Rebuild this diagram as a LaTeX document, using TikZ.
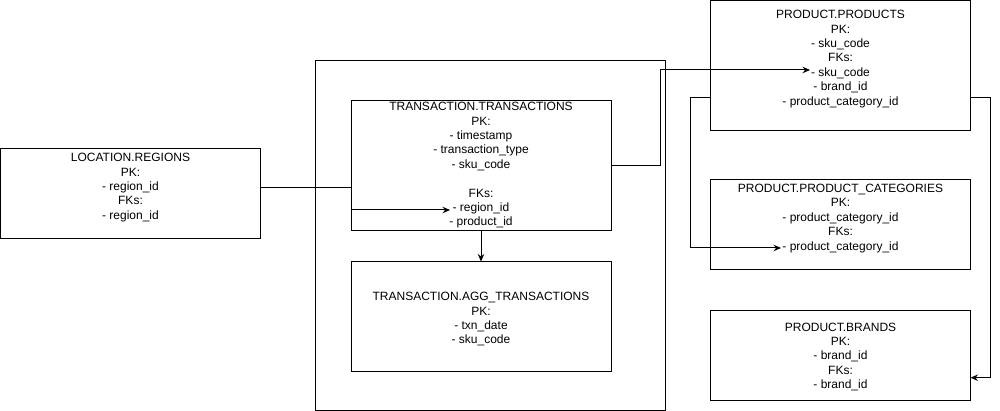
\documentclass[tikz,border=0pt]{standalone}
\usepackage{fontspec}
\setmainfont{Liberation Sans}
\usetikzlibrary{arrows.meta}
\begin{document}
\begin{tikzpicture}[x=1pt,y=-1pt,
  box/.style={draw,line width=1pt,inner sep=0pt,outer sep=0pt,fill=none},
  txt/.style={font=\fontsize{12pt}{14.4pt}\selectfont,align=center,inner sep=0pt},
  conn/.style={line width=1pt},
  arr/.style={line width=1pt,-{Stealth[length=7.5pt,width=6.5pt,inset=2.5pt]}}]
\useasboundingbox (0,0) rectangle (1000,411);
% boxes
\node[box,minimum width=350pt,minimum height=349.5pt] (outer) at (490.5,235.25) {};
\node[box,minimum width=260pt,minimum height=90pt] (reg) at (130.5,194) {};
\node[box,minimum width=260pt,minimum height=130pt] (trans) at (481,165.5) {};
\node[box,minimum width=260pt,minimum height=110pt] (agg) at (481,316.5) {};
\node[box,minimum width=260pt,minimum height=130pt] (prod) at (840.5,65.5) {};
\node[box,minimum width=260pt,minimum height=90pt] (cat) at (840.5,225) {};
\node[box,minimum width=260pt,minimum height=90pt] (brand) at (840.5,355) {};
% texts
\node[txt] (treg) at (130.5,187.5) {LOCATION.REGIONS\\PK:\\- region\_id\\FKs:\\- region\_id};
\node[txt] (ttrans) at (481,165.3) {TRANSACTION.TRANSACTIONS\\PK:\\- timestamp\\- transaction\_type\\- sku\_code\\\mbox{}\\FKs:\\- region\_id\\- product\_id};
\node[txt] (tagg) at (481,319.4) {TRANSACTION.AGG\_TRANSACTIONS\\PK:\\- txn\_date\\- sku\_code};
\node[txt] (tprod) at (840.5,59) {PRODUCT.PRODUCTS\\PK:\\- sku\_code\\FKs:\\- sku\_code\\- brand\_id\\- product\_category\_id};
\node[txt] (tcat) at (840.5,218.3) {PRODUCT.PRODUCT\_CATEGORIES\\PK:\\- product\_category\_id\\FKs:\\- product\_category\_id};
\node[txt] (tbrand) at (840.5,357) {PRODUCT.BRANDS\\PK:\\- brand\_id\\FKs:\\- brand\_id};
% arrow targets
\coordinate (fkreg) at (450,210);
\coordinate (fksku) at (810,70);
\coordinate (fkcat) at (781,248);
% connectors
\draw[arr] ([yshift=6pt]reg.east) -| (trans.west |- fkreg) -- (fkreg);
\draw[arr] (trans.south) -- (agg.north);
\draw[arr] (trans.east) -- ++(49.5,0) |- (fksku);
\draw[arr] ([yshift=-32.5pt]prod.west) -- ++(-20,0) |- (fkcat);
\draw[arr] ([yshift=-32.5pt]prod.east) -- ++(20,0) |- ([yshift=-22.7pt]brand.east);
\end{tikzpicture}
\end{document}
